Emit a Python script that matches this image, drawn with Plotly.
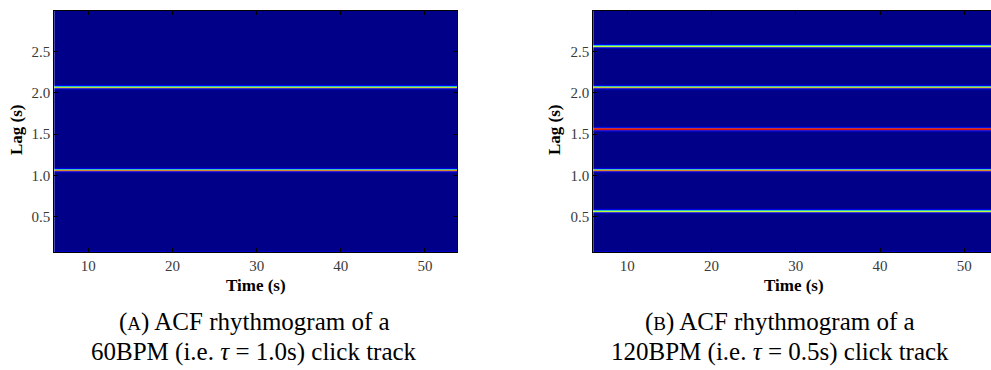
import plotly.graph_objects as go

W, H = 991, 370

# ---- data ----
time_edges = [5.0, 30.0, 55.0]          # ACF is constant over time

# panel A : 60 BPM click track
lags_a = [1.066, 2.066]
upper_a = [0.46, 0.40]    # colour of the row just above the peak
lower_a = [0.80, 0.70]    # colour of the row just below the peak
halo_a = [0.13, 0.12]

# panel B : 120 BPM click track
lags_b = [0.566, 1.066, 1.566, 2.066, 2.566]
upper_b = [0.42, 0.48, 0.84, 0.44, 0.42]
lower_b = [0.64, 0.80, 0.92, 0.72, 0.64]
halo_b = [0.12, 0.13, 0.15, 0.12, 0.12]

background = 0.008
bottom_strip = [0.13, 0.06, 0.03]        # brighter rows at the smallest lags

x_ticks = [10, 20, 30, 40, 50]
y_ticks = [0.5, 1.0, 1.5, 2.0, 2.5]
y_ticktext = ["0.5", "1.0", "1.5", "2.0", "2.5"]

LAG_MIN, LAG_MAX = 0.072, 2.997

# matplotlib "jet"
jet = [
    [0.0, "rgb(0,0,127)"], [0.11, "rgb(0,0,255)"], [0.125, "rgb(0,0,255)"],
    [0.34, "rgb(0,219,255)"], [0.35, "rgb(0,229,247)"], [0.375, "rgb(20,255,226)"],
    [0.64, "rgb(238,255,8)"], [0.66, "rgb(255,236,0)"], [0.89, "rgb(255,18,0)"],
    [0.91, "rgb(232,0,0)"], [1.0, "rgb(128,0,0)"],
]


def build(lags, upper, lower, halo):
    step = 0.012
    edges = [0.06]
    vals = []
    for v in bottom_strip:
        edges.append(edges[-1] + step)
        vals.append(v)
    for L, u, lo, h in zip(lags, upper, lower, halo):
        rows = [(L - 3 * step, 0.03), (L - 2 * step, h), (L - step, lo),
                (L, u), (L + step, h), (L + 2 * step, 0.03), (L + 3 * step, None)]
        edges.append(rows[0][0])
        vals.append(background)
        for (a, v), (b, _) in zip(rows[:-1], rows[1:]):
            edges.append(b)
            vals.append(v)
    edges.append(3.1)
    vals.append(background)
    z = [[v, v] for v in vals]
    return edges, z


ea, za = build(lags_a, upper_a, lower_a, halo_a)
eb, zb = build(lags_b, upper_b, lower_b, halo_b)

fig = go.Figure()
fig.add_trace(go.Heatmap(x=time_edges, y=ea, z=za, colorscale=jet, zmin=0, zmax=1,
                         showscale=False, xaxis="x", yaxis="y", hoverinfo="skip"))
fig.add_trace(go.Heatmap(x=time_edges, y=eb, z=zb, colorscale=jet, zmin=0, zmax=1,
                         showscale=False, xaxis="x2", yaxis="y2", hoverinfo="skip"))

FONT = "Liberation Serif"
tickfont = dict(family=FONT, size=15, color="#3a3a3a")


def px_x(p):
    return p / W


def px_y(p):
    return 1 - p / H


ydom = [px_y(252), px_y(10.7)]
common_ax = dict(showline=True, linecolor="black", linewidth=1, ticks="inside",
                 ticklen=4, tickcolor="black", showgrid=False, zeroline=False,
                 tickfont=tickfont)

fig.update_layout(
    width=W, height=H, margin=dict(l=0, r=0, t=0, b=0),
    paper_bgcolor="white", plot_bgcolor="white", showlegend=False,
    xaxis=dict(domain=[px_x(54.3), px_x(457.3)], range=[5.96, 53.84], anchor="y",
               tickvals=x_ticks, mirror="ticks", **common_ax),
    yaxis=dict(domain=ydom, range=[LAG_MIN, LAG_MAX], anchor="x",
               tickvals=y_ticks, ticktext=y_ticktext, mirror="ticks", **common_ax),
    xaxis2=dict(domain=[px_x(593.3), 1.0], range=[5.96, 53.17], anchor="y2",
                tickvals=x_ticks, mirror="ticks", **common_ax),
    yaxis2=dict(domain=ydom, range=[LAG_MIN, LAG_MAX], anchor="x2",
                tickvals=y_ticks, ticktext=y_ticktext, mirror=False, **common_ax),
)

title_font = dict(family=FONT, size=17, color="black")
ann = []
for xc, lx in [(256, 16), (794, 554)]:
    ann.append(dict(text="<b>Time (s)</b>", x=px_x(xc), y=px_y(285), xref="paper",
                    yref="paper", showarrow=False, font=title_font,
                    xanchor="center", yanchor="middle", borderpad=0))
    ann.append(dict(text="<b>Lag (s)</b>", x=px_x(lx), y=px_y(130), xref="paper",
                    yref="paper", showarrow=False, font=title_font, textangle=-90,
                    xanchor="center", yanchor="middle"))

cap_font = dict(family=FONT, size=25, color="black")
captions = [
    (254, "(<span style='font-size:19px'>A</span>) ACF rhythmogram of a",
     "60BPM (i.e. <i>τ</i> = 1.0s) click track"),
    (780, "(<span style='font-size:19px'>B</span>) ACF rhythmogram of a",
     "120BPM (i.e. <i>τ</i> = 0.5s) click track"),
]
for xc, l1, l2 in captions:
    ann.append(dict(text=l1, x=px_x(xc), y=px_y(322), xref="paper", yref="paper",
                    showarrow=False, font=cap_font, xanchor="center", yanchor="middle"))
    ann.append(dict(text=l2, x=px_x(xc), y=px_y(352), xref="paper", yref="paper",
                    showarrow=False, font=cap_font, xanchor="center", yanchor="middle"))

fig.update_layout(annotations=ann)
fig.write_html("out.html")
